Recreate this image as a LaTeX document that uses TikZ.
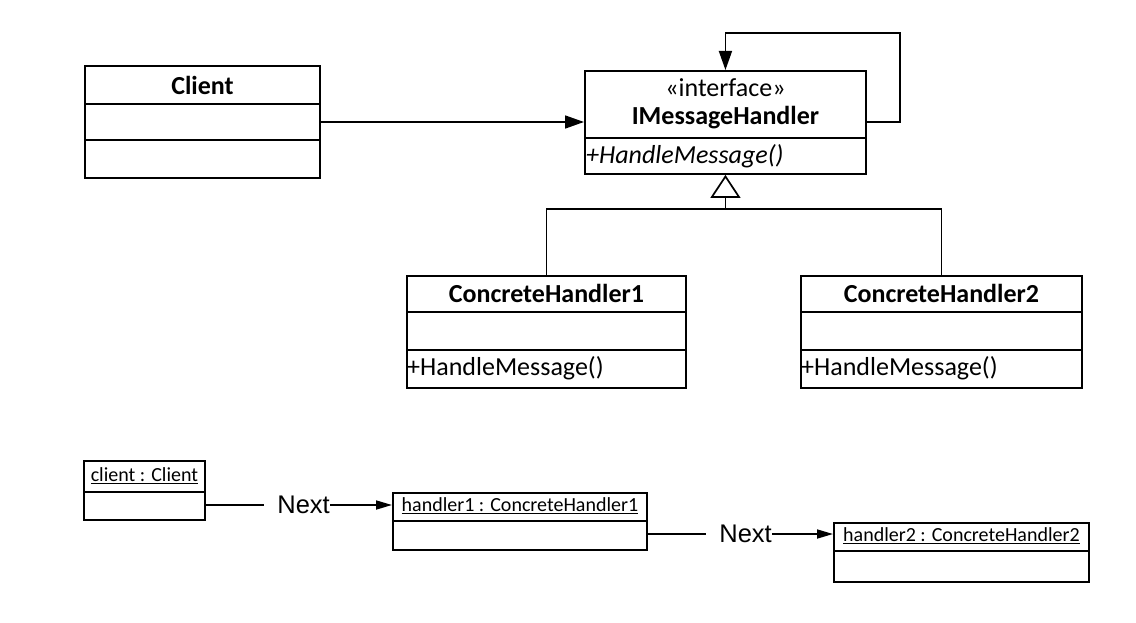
\documentclass[tikz,border=0pt]{standalone}
\usepackage{fontspec}
\setmainfont{Carlito}
\newfontfamily\arialfont{Liberation Sans}
\usetikzlibrary{arrows.meta}

\tikzset{
  box/.style={draw, line width=1.9pt, anchor=north west, inner sep=0pt},
  divider/.style={line width=1.7pt},
  link/.style={line width=1.7pt},
  bigarr/.style={link, -{Triangle[length=19pt,width=13pt]}},
  smallarr/.style={link, -{Triangle[length=16pt,width=9pt]}},
  inherit/.style={link, -{Triangle[open,length=23pt,width=30pt,line width=1.7pt]}},
  classname/.style={font=\fontsize{26}{30}\selectfont\bfseries, inner sep=0pt},
  stereo/.style={font=\fontsize{26}{30}\selectfont, inner sep=0pt},
  member/.style={font=\fontsize{26}{30}\selectfont, inner sep=0pt, anchor=west},
  objname/.style={font=\fontsize{20}{24}\selectfont, inner sep=0pt},
  rolelabel/.style={font=\arialfont\fontsize{25.5}{30}\selectfont, inner sep=0pt},
}

\begin{document}
\begin{tikzpicture}[x=1pt, y=-1pt]
\useasboundingbox (0,0) rectangle (1136,623);

% ---------- class diagram ----------
% Client
\node[box, minimum width=235pt, minimum height=112pt] (client) at (84,65) {};
\draw[divider] (client.west |- 0,104) -- (client.east |- 0,104);
\draw[divider] (client.west |- 0,140) -- (client.east |- 0,140);
\node[classname] (clientname) at (client.north |- 0,85) {Client};

% IMessageHandler interface
\node[box, minimum width=281pt, minimum height=103pt] (imh) at (584,70) {};
\draw[divider] (imh.west |- 0,138) -- (imh.east |- 0,138);
\node[stereo] (imhstereo) at (imh.north |- 0,88) {«interface»};
\node[classname] (imhname) at (imh.north |- 0,118) {IMessageHandler};
\node[member, font=\fontsize{26}{30}\selectfont\itshape] (imhop) at ([xshift=2pt]imh.west |- 0,156) {+HandleMessage()};

% ConcreteHandler1
\node[box, minimum width=279pt, minimum height=112pt] (ch1) at (406,275) {};
\draw[divider] (ch1.west |- 0,312) -- (ch1.east |- 0,312);
\draw[divider] (ch1.west |- 0,350) -- (ch1.east |- 0,350);
\node[classname] (ch1name) at (ch1.north |- 0,293) {ConcreteHandler1};
\node[member] (ch1op) at ([xshift=1pt]ch1.west |- 0,368) {+HandleMessage()};

% ConcreteHandler2
\node[box, minimum width=281pt, minimum height=112pt] (ch2) at (800,275) {};
\draw[divider] (ch2.west |- 0,312) -- (ch2.east |- 0,312);
\draw[divider] (ch2.west |- 0,350) -- (ch2.east |- 0,350);
\node[classname] (ch2name) at (ch2.north |- 0,293) {ConcreteHandler2};
\node[member] (ch2op) at ([xshift=1pt]ch2.west |- 0,368) {+HandleMessage()};

% association Client -> IMessageHandler
\draw[bigarr] (client.east |- 0,122) -- (imh.west |- 0,122);

% self association (successor)
\coordinate (loopcorner) at (900,33);
\draw[bigarr] (imh.east |- 0,122) -| (loopcorner) -| (imh.north);

% realization tree
\coordinate (junction) at (imh.south |- 0,209);
\draw[inherit] (junction) -- (imh.south);
\draw[link] (ch1.north) -- (ch1.north |- junction) -- (ch2.north |- junction) -- (ch2.north);

% ---------- object diagram ----------
\node[box, minimum width=121pt, minimum height=59pt] (oclient) at (83,460) {};
\draw[divider] (oclient.west |- 0,492) -- (oclient.east |- 0,492);
\node[objname] (oclientname) at (oclient.north |- 0,476) {\underline{client : Client}};

\node[box, minimum width=254pt, minimum height=57pt] (oh1) at (392,492) {};
\draw[divider] (oh1.west |- 0,521) -- (oh1.east |- 0,521);
\node[objname] (oh1name) at (oh1.north |- 0,506) {\underline{handler1 : ConcreteHandler1}};

\node[box, minimum width=255pt, minimum height=59pt] (oh2) at (833,522) {};
\draw[divider] (oh2.west |- 0,551) -- (oh2.east |- 0,551);
\node[objname] (oh2name) at (oh2.north |- 0,536) {\underline{handler2 : ConcreteHandler2}};

% links labelled Next
\node[rolelabel, anchor=east] (next1) at (330,505) {Next};
\draw[link] (oclient.east |- next1) -- ([xshift=-13pt]next1.west);
\draw[smallarr] (next1.east) -- (oh1.west |- next1);

\node[rolelabel, anchor=east] (next2) at (772,534) {Next};
\draw[link] (oh1.east |- next2) -- ([xshift=-13pt]next2.west);
\draw[smallarr] (next2.east) -- (oh2.west |- next2);
\end{tikzpicture}
\end{document}
